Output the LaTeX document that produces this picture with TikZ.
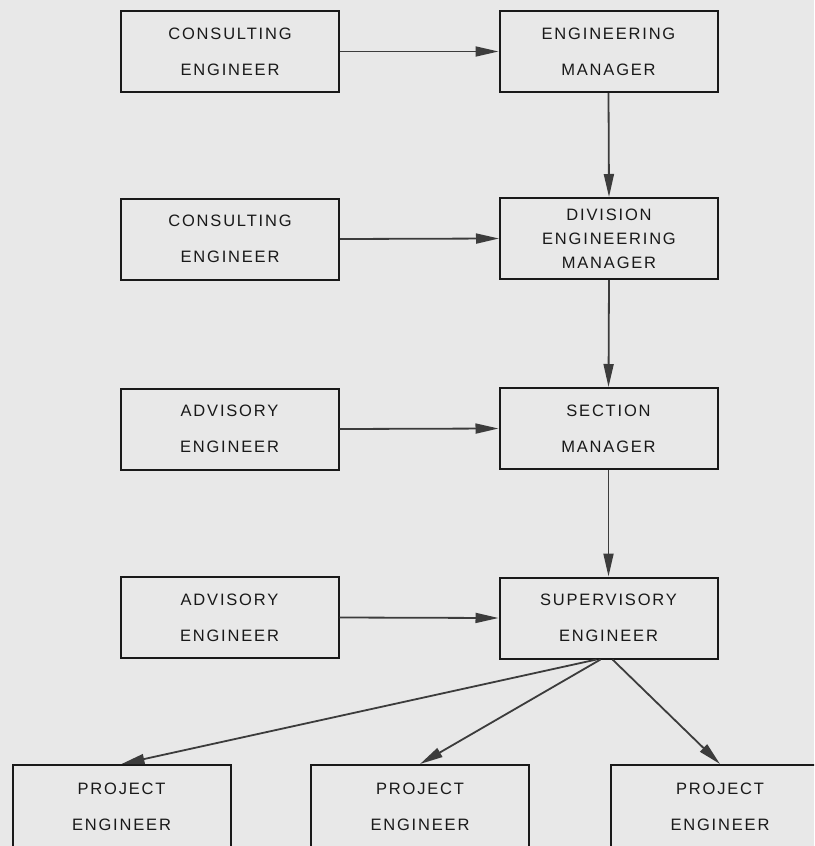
\documentclass[tikz,border=0pt]{standalone}
\usepackage{fontspec}
\setmainfont{Liberation Sans}[LetterSpace=11]
\usetikzlibrary{arrows.meta}
\definecolor{bg}{RGB}{232,232,232}
\definecolor{ink}{RGB}{25,25,25}
\definecolor{arr}{RGB}{60,60,60}
\begin{document}
\begin{tikzpicture}[x=1pt,y=-1pt,
  box/.style={draw=ink, line width=2pt, minimum width=218pt, minimum height=81pt,
    inner sep=0pt, align=center, text=ink, font=\fontsize{16.5}{36}\selectfont},
  link/.style={draw=arr, line width=1.8pt, -{Triangle[length=23pt,width=10pt]}}]
\fill[bg] (0,0) rectangle (814,846);
\useasboundingbox (0,0) rectangle (814,846);
\clip (0,0) rectangle (814,846);

\node[box] (ce1) at (230,51.5) {CONSULTING\\ENGINEER};
\node[box] (em)  at (608.5,51.5) {ENGINEERING\\MANAGER};
\node[box] (ce2) at (230,239) {CONSULTING\\ENGINEER};
\node[box, font=\fontsize{16.5}{24}\selectfont] (dem) at (609,238.5) {DIVISION\\ENGINEERING\\MANAGER};
\node[box] (ae1) at (229.5,429) {ADVISORY\\ENGINEER};
\node[box] (sm)  at (608.5,428.5) {SECTION\\MANAGER};
\node[box] (ae2) at (229.5,617.5) {ADVISORY\\ENGINEER};
\node[box] (se)  at (608.5,618) {SUPERVISORY\\ENGINEER};
\node[box, minimum height=84pt] (pe1) at (121.5,807) {PROJECT\\ENGINEER};
\node[box, minimum height=84pt] (pe2) at (420,807) {PROJECT\\ENGINEER};
\node[box, minimum height=84pt] (pe3) at (720,807) {PROJECT\\ENGINEER};

\draw[link] (ce1.east) -- (em.west);
\draw[link] (ce2.east) -- (dem.west);
\draw[link] (ae1.east) -- (sm.west);
\draw[link] (ae2.east) -- (se.west);
\draw[link] (em.south) -- (dem.north);
\draw[link] (dem.south) -- (sm.north);
\draw[link] (sm.south) -- (se.north);
\draw[link] ([xshift=-12pt]se.south) -- (pe1.north);
\draw[link] ([xshift=-8pt]se.south) -- (pe2.north);
\draw[link] ([xshift=4pt]se.south) -- (pe3.north);
\end{tikzpicture}
\end{document}
